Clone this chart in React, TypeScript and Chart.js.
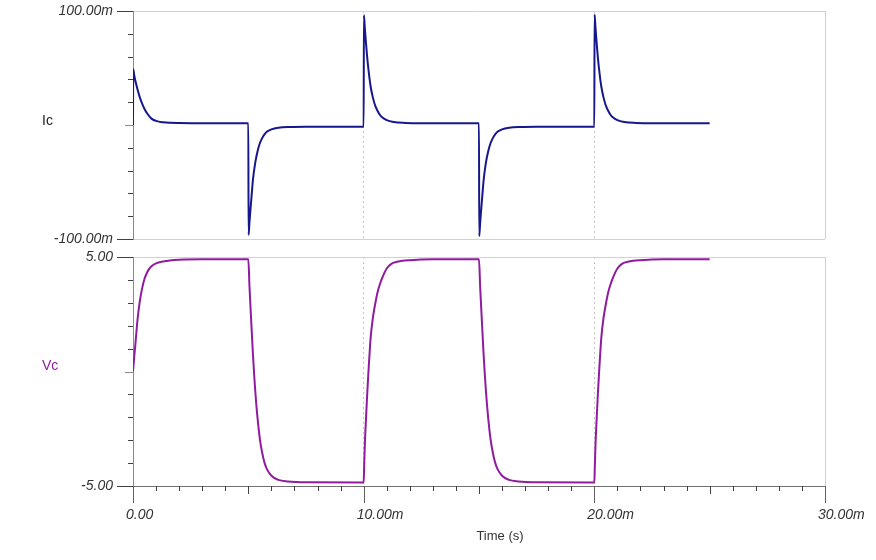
import React, { useEffect, useRef } from 'react';
import { Chart, registerables } from 'chart.js';

Chart.register(...registerables);

// ---- data (time in ms, Ic in mA, Vc in V) ----
const icTimes = [
  0, 0.01, 0.05, 0.1, 0.2, 0.3, 0.4, 0.5, 0.6, 0.8, 1.0, 1.3, 1.6, 2.0, 3.0, 4.99,
  5.0, 5.01, 5.05, 5.1, 5.15, 5.2, 5.3, 5.4, 5.5, 5.6, 5.7, 5.8, 6.0, 6.3, 6.8, 7.5, 9.99,
  10.0, 10.01, 10.05, 10.1, 10.15, 10.2, 10.3, 10.4, 10.5, 10.6, 10.7, 10.8, 11.0, 11.3, 11.8, 12.5, 14.99,
  15.0, 15.01, 15.05, 15.1, 15.15, 15.2, 15.3, 15.4, 15.5, 15.6, 15.7, 15.8, 16.0, 16.3, 16.8, 17.5, 19.99,
  20.0, 20.01, 20.05, 20.1, 20.15, 20.2, 20.3, 20.4, 20.5, 20.6, 20.7, 20.8, 21.0, 21.3, 21.8, 22.5, 25.0,
];
const icValues = [
  0, 49, 44, 39, 31, 24, 18.5, 14, 10.5, 5.6, 3.6, 2.4, 1.9, 1.7, 1.5, 1.5,
  1.5, -96.5, -85, -72, -60, -48, -33, -23, -16, -11.5, -8.3, -6.0, -3.8, -2.4, -1.7, -1.5, -1.5,
  -1.5, 96.5, 85, 72, 60, 50, 34, 24, 17, 12.5, 9, 6.8, 4.2, 2.6, 1.8, 1.5, 1.5,
  1.5, -97.5, -86, -73, -60.5, -48.5, -33, -23, -16, -11.5, -8.3, -6.0, -3.8, -2.4, -1.7, -1.5, -1.5,
  -1.5, 97, 85.5, 72, 60, 50, 34, 24, 17, 12.5, 9, 6.8, 4.2, 2.6, 1.8, 1.5, 1.5,
];

const vcTimes = [
  0, 0.05, 0.1, 0.2, 0.3, 0.4, 0.5, 0.6, 0.7, 0.8, 1.0, 1.3, 1.6, 2.0, 3.0, 4.99,
  5.0, 5.05, 5.1, 5.15, 5.2, 5.25, 5.3, 5.4, 5.5, 5.6, 5.7, 5.8, 6.0, 6.3, 6.7, 7.5, 9.99,
  10.0, 10.02, 10.05, 10.1, 10.15, 10.2, 10.3, 10.4, 10.5, 10.6, 10.7, 10.8, 11.0, 11.2, 11.5, 12.0, 13.0, 14.99,
  15.0, 15.05, 15.1, 15.15, 15.2, 15.25, 15.3, 15.4, 15.5, 15.6, 15.7, 15.8, 16.0, 16.3, 16.7, 17.5, 19.99,
  20.0, 20.02, 20.05, 20.1, 20.15, 20.2, 20.3, 20.4, 20.5, 20.6, 20.7, 20.8, 21.0, 21.2, 21.5, 22.0, 23.0, 25.0,
];
const vcValues = [
  0, 0.6, 1.15, 2.3, 3.1, 3.65, 4.05, 4.3, 4.48, 4.6, 4.72, 4.8, 4.85, 4.88, 4.9, 4.9,
  4.9, 3.7, 2.7, 1.7, 0.75, -0.1, -0.85, -2.05, -2.95, -3.55, -3.98, -4.25, -4.55, -4.73, -4.8, -4.84, -4.85,
  -4.85, -4.2, -3.2, -2.1, -1.05, -0.15, 1.45, 2.35, 2.95, 3.45, 3.8, 4.08, 4.5, 4.7, 4.8, 4.86, 4.9, 4.9,
  4.9, 3.7, 2.7, 1.7, 0.75, -0.1, -0.85, -2.05, -2.95, -3.55, -3.98, -4.25, -4.55, -4.73, -4.8, -4.84, -4.85,
  -4.85, -4.2, -3.2, -2.1, -1.05, -0.15, 1.45, 2.35, 2.95, 3.45, 3.8, 4.08, 4.5, 4.7, 4.8, 4.86, 4.9, 4.9,
];

const timeMajorTicks = [0, 10, 20, 30];
const timeTickLabels = ['0.00', '10.00m', '20.00m', '30.00m'];
const icAxisLabels = ['-100.00m', '100.00m'];
const vcAxisLabels = ['-5.00', '5.00'];

const IC_COLOR = '#17178c';
const VC_COLOR = '#8f1c9f';
const TEXT_COLOR = '#333333';
const FONT = '"Liberation Sans", Arial, sans-serif';

const toPoints = (ts: number[], vs: number[]) => ts.map((t, i) => ({ x: t, y: vs[i] }));

function xScale(showLabels: boolean) {
  return {
    type: 'linear',
    min: 0,
    max: 30,
    afterBuildTicks: (s: any) => {
      const t = [];
      for (let v = 0; v <= 30; v += 1) t.push({ value: v });
      s.ticks = t;
    },
    afterFit: (s: any) => {
      s.height = showLabels ? 74 : 11;
      s.paddingLeft = 0;
      s.paddingRight = 0;
    },
    grid: {
      drawTicks: false,
      lineWidth: 1,
      color: (c: any) => {
        const v = c.tick ? c.tick.value : -1;
        if (v === 10 || v === 20) return '#c4c4c4';
        if (v === 30) return '#cfcfcf';
        return 'rgba(0,0,0,0)';
      },
    },
    border: {
      display: showLabels,
      color: '#707070',
      width: 1,
      dash: (c: any) => {
        const v = c.tick ? c.tick.value : -1;
        return v === 10 || v === 20 ? [2, 3] : [];
      },
    },
    ticks: {
      display: showLabels,
      autoSkip: false,
      maxRotation: 0,
      minRotation: 0,
      align: 'start',
      labelOffset: -7,
      padding: 21,
      color: TEXT_COLOR,
      font: { family: FONT, size: 14, style: 'italic' },
      callback: (v: any) => {
        const i = timeMajorTicks.indexOf(Number(v));
        return i >= 0 ? timeTickLabels[i] : '';
      },
    },
  };
}

function yScale(min: number, max: number, step: number, labels: string[]) {
  return {
    type: 'linear',
    min,
    max,
    afterBuildTicks: (s: any) => {
      const t = [];
      for (let v = min; v <= max + 1e-9; v += step) t.push({ value: Math.round(v * 1000) / 1000 });
      s.ticks = t;
    },
    afterFit: (s: any) => {
      s.width = 133;
      s.paddingTop = 0;
      s.paddingBottom = 0;
    },
    grid: {
      drawTicks: false,
      lineWidth: 1,
      color: (c: any) => {
        const v = c.tick ? c.tick.value : 0;
        return v === min || v === max ? '#d2d2d2' : 'rgba(0,0,0,0)';
      },
    },
    border: { display: true, color: '#8a8a8a', width: 1 },
    ticks: {
      autoSkip: false,
      padding: 20,
      color: TEXT_COLOR,
      font: { family: FONT, size: 14, style: 'italic' },
      callback: (v: any) => {
        const n = Number(v);
        if (n === max) return labels[1];
        if (n === min) return labels[0];
        return '';
      },
    },
  };
}

function tickMarksPlugin(showX: boolean) {
  return {
    id: 'tickMarks',
    afterDraw(chart: any) {
      const ctx = chart.ctx;
      const ys = chart.scales.y;
      const xs = chart.scales.x;
      ctx.save();
      ctx.lineWidth = 1;
      ys.ticks.forEach((t: any) => {
        const py = Math.round(ys.getPixelForValue(t.value)) + 0.5;
        let len = 5;
        let color = '#404040';
        if (t.value === ys.max || t.value === ys.min) len = 16;
        else if (t.value === 0) {
          len = 8;
          color = '#8a8a8a';
        }
        ctx.strokeStyle = color;
        ctx.beginPath();
        ctx.moveTo(ys.right - len, py);
        ctx.lineTo(ys.right, py);
        ctx.stroke();
      });
      if (showX) {
        xs.ticks.forEach((t: any) => {
          const px = Math.round(xs.getPixelForValue(t.value)) + 0.5;
          let len = 5;
          if (t.value % 10 === 0) len = 17;
          else if (t.value % 5 === 0) len = 8;
          ctx.strokeStyle = t.value % 10 === 0 ? '#606060' : '#404040';
          ctx.beginPath();
          ctx.moveTo(px, xs.top);
          ctx.lineTo(px, xs.top + len);
          ctx.stroke();
        });
      }
      ctx.restore();
    },
  };
}

function textPlugin(items: { text: string; x: number; y: number; color: string; size: number; align: CanvasTextAlign }[]) {
  return {
    id: 'sideText',
    afterDraw(chart: any) {
      const ctx = chart.ctx;
      ctx.save();
      ctx.textBaseline = 'middle';
      items.forEach((it) => {
        ctx.font = `${it.size}px ${FONT}`;
        ctx.fillStyle = it.color;
        ctx.textAlign = it.align;
        ctx.fillText(it.text, it.x, it.y);
      });
      ctx.restore();
    },
  };
}

export default function App() {
  const topRef = useRef<HTMLCanvasElement | null>(null);
  const botRef = useRef<HTMLCanvasElement | null>(null);

  useEffect(() => {
    const top = new Chart(topRef.current as HTMLCanvasElement, {
      type: 'line',
      data: {
        datasets: [
          {
            data: toPoints(icTimes, icValues),
            borderColor: IC_COLOR,
            borderWidth: 2,
            pointRadius: 0,
            fill: false,
            cubicInterpolationMode: 'monotone',
          } as any,
        ],
      },
      options: {
        responsive: false,
        animation: false,
        events: [],
        layout: { padding: { left: 0, right: 51, top: 11, bottom: 0 } },
        plugins: { legend: { display: false }, tooltip: { enabled: false } },
        scales: {
          x: xScale(false) as any,
          y: yScale(-100, 100, 20, icAxisLabels) as any,
        },
      },
      plugins: [
        tickMarksPlugin(false),
        textPlugin([{ text: 'Ic', x: 42, y: 121, color: '#222222', size: 14, align: 'left' }]),
      ],
    });

    const bot = new Chart(botRef.current as HTMLCanvasElement, {
      type: 'line',
      data: {
        datasets: [
          {
            data: toPoints(vcTimes, vcValues),
            borderColor: VC_COLOR,
            borderWidth: 2,
            pointRadius: 0,
            fill: false,
            cubicInterpolationMode: 'monotone',
          } as any,
        ],
      },
      options: {
        responsive: false,
        animation: false,
        events: [],
        layout: { padding: { left: 0, right: 51, top: 12, bottom: 0 } },
        plugins: { legend: { display: false }, tooltip: { enabled: false } },
        scales: {
          x: xScale(true) as any,
          y: yScale(-5, 5, 1, vcAxisLabels) as any,
        },
      },
      plugins: [
        tickMarksPlugin(true),
        textPlugin([
          { text: 'Vc', x: 42, y: 121, color: VC_COLOR, size: 14, align: 'left' },
          { text: 'Time (s)', x: 500, y: 291, color: TEXT_COLOR, size: 13, align: 'center' },
        ]),
      ],
    });

    return () => {
      top.destroy();
      bot.destroy();
    };
  }, []);

  return (
    <div style={{ position: 'absolute', left: 0, top: 0, width: 876, height: 560, background: '#ffffff' }}>
      <canvas ref={topRef} width={876} height={250} style={{ position: 'absolute', left: 0, top: 0, display: 'block' }} />
      <canvas ref={botRef} width={876} height={315} style={{ position: 'absolute', left: 0, top: 245, display: 'block' }} />
    </div>
  );
}
